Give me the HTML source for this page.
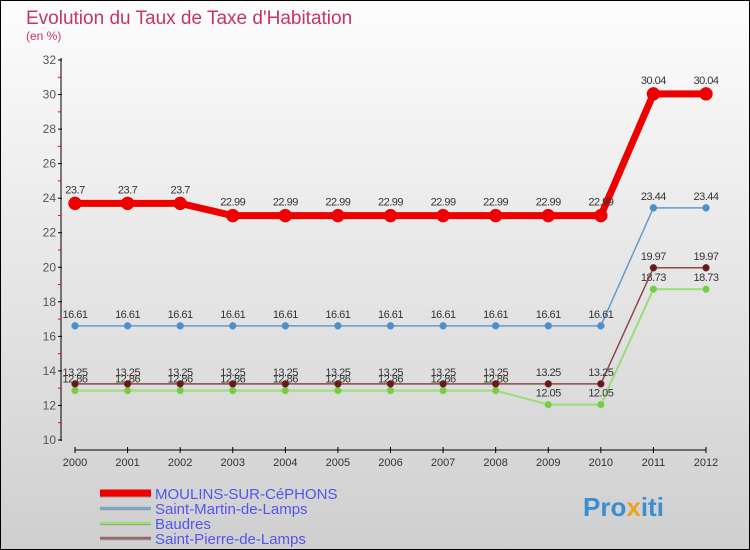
<!DOCTYPE html>
<html><head><meta charset="utf-8"><style>
body{margin:0}
svg{display:block;font-family:"Liberation Sans",sans-serif}
</style></head><body>
<svg width="750" height="550" viewBox="0 0 750 550" xmlns="http://www.w3.org/2000/svg">
<defs><linearGradient id="bg" x1="0" y1="0" x2="0" y2="1"><stop offset="0" stop-color="#fdfdfd"/><stop offset="1" stop-color="#cfcfcf"/></linearGradient></defs>
<rect x="0.5" y="0.5" width="749" height="549" fill="url(#bg)" stroke="#000"/>
<text x="26" y="24" font-size="19" fill="#c8336a">Evolution du Taux de Taxe d'Habitation</text>
<text x="26" y="40" font-size="12" fill="#c8336a">(en %)</text>
<g id="axes"></g>
<g id="series"></g>
<g id="legend"></g>
<text x="583" y="516" font-size="26" font-weight="bold" fill="#3a8fd0">Pro<tspan fill="#f0a020">x</tspan>iti</text>
</svg>
<script>
const years=[2000,2001,2002,2003,2004,2005,2006,2007,2008,2009,2010,2011,2012];
const moulins=[23.7,23.7,23.7,22.99,22.99,22.99,22.99,22.99,22.99,22.99,22.99,30.04,30.04];
const stMartin=[16.61,16.61,16.61,16.61,16.61,16.61,16.61,16.61,16.61,16.61,16.61,23.44,23.44];
const baudres=[12.86,12.86,12.86,12.86,12.86,12.86,12.86,12.86,12.86,12.05,12.05,18.73,18.73];
const stPierre=[13.25,13.25,13.25,13.25,13.25,13.25,13.25,13.25,13.25,13.25,13.25,19.97,19.97];
const yTicks=[10,12,14,16,18,20,22,24,26,28,30,32];
const NS="http://www.w3.org/2000/svg";
const X=i=>75+i*(706-75)/(years.length-1);
const Y=v=>440-(v-10)*(380/22);
function mk(tag,attrs,parent,text){const e=document.createElementNS(NS,tag);for(const k in attrs)e.setAttribute(k,attrs[k]);if(text!==undefined)e.textContent=text;parent.appendChild(e);return e;}
const ax=document.getElementById('axes');
let e=mk('line',{x1:61,y1:58,x2:61,y2:441,stroke:'#000','stroke-width':1},ax);

e=mk('line',{x1:75,y1:450,x2:706,y2:450,stroke:'#000','stroke-width':1},ax);

yTicks.forEach(v=>{
 mk('line',{x1:58,y1:Y(v),x2:62,y2:Y(v),stroke:'#000'},ax);
 if(v<32) mk('line',{x1:58,y1:Y(v+1),x2:61,y2:Y(v+1),stroke:'#f00'},ax);
 const t=mk('text',{x:56,y:Y(v)+4,'font-size':12,fill:'#555','text-anchor':'end'},ax,String(v));
 
});
years.forEach((y,i)=>{
 mk('line',{x1:X(i),y1:447,x2:X(i),y2:453,stroke:'#000'},ax);
 const t=mk('text',{x:X(i),y:466,'font-size':11,fill:'#333','text-anchor':'middle'},ax,String(y));
 
});
const sg=document.getElementById('series');
function series(vals,color,dot,w,r,name,labOff){
 const g=mk('g',{},sg);
 
 mk('polyline',{points:vals.map((v,i)=>X(i)+','+Y(v)).join(' '),fill:'none',stroke:color,'stroke-width':w,'stroke-linejoin':'round'},g);
 vals.forEach((v,i)=>{
  const c=mk('circle',{cx:X(i),cy:Y(v),r:r,fill:dot,stroke:color,'stroke-width':0.5},g);
  
  const t=mk('text',{x:X(i),y:Y(v)-labOff,'font-size':11,fill:'#333','text-anchor':'middle','letter-spacing':'-0.5'},g,String(v));
  
 });
}
series(baudres,'#99dd77','#77cc44',2,3.5,'baudres-series',8);
series(stPierre,'#8a4a4a','#661a1a',1.5,3.5,'saint-pierre-series',8);
series(stMartin,'#6699cc','#4a90cc',1.5,3.5,'saint-martin-series',8);
series(moulins,'#ee0000','#ee0000',7,6.5,'moulins-series',10);
const lg=document.getElementById('legend');
const items=[['MOULINS-SUR-CéPHONS','#ee0000',7],['Saint-Martin-de-Lamps','#77aacc',2.5],['Baudres','#99dd77',2.5],['Saint-Pierre-de-Lamps','#996666',2.5]];
items.forEach((it,i)=>{
 const y=493+i*15;
 const g=mk('g',{},lg);
 
 mk('line',{x1:100,y1:y+1,x2:151,y2:y+1,stroke:'#999','stroke-width':it[2]},g);
 mk('line',{x1:100,y1:y,x2:151,y2:y,stroke:it[1],'stroke-width':it[2]},g);
 mk('text',{x:155,y:y+6,'font-size':15,fill:'#5555ee'},g,it[0]);
});
</script>
</body></html>
